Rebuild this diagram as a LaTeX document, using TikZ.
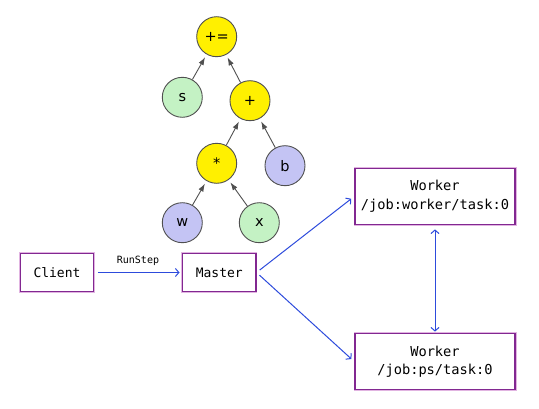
\documentclass[tikz,border=0pt]{standalone}
\usepackage{fontspec}
\setmainfont{DejaVu Sans}
\newfontfamily\monofont{DejaVu Sans Mono}
\usetikzlibrary{arrows.meta}
\definecolor{opyellow}{RGB}{255,240,0}
\definecolor{opgreen}{RGB}{196,242,196}
\definecolor{opblue}{RGB}{196,196,244}
\definecolor{opedge}{RGB}{80,80,80}
\definecolor{boxpurple}{RGB}{130,40,145}
\definecolor{boxglow}{RGB}{225,180,225}
\definecolor{linkblue}{RGB}{45,75,220}
\tikzset{
  opnode/.style={circle,draw=opedge,line width=0.9pt,minimum size=40pt,inner sep=0pt,
    font=\fontsize{14.5}{14.5}\selectfont},
  yel/.style={opnode,fill=opyellow},
  grn/.style={opnode,fill=opgreen},
  blu/.style={opnode,fill=opblue},
  treeedge/.style={draw=opedge,line width=0.9pt,-{Latex[length=8pt,width=5.5pt]},shorten >=3pt},
  procbox/.style={draw=boxpurple,line width=1.2pt,fill=white,inner sep=0pt,
    font=\monofont\fontsize{13}{18}\selectfont,align=center,
    preaction={draw=boxglow,line width=3pt}},
  link/.style={draw=linkblue,line width=1pt,-{Straight Barb[length=3.5pt,width=8pt]}},
  dlink/.style={draw=linkblue,line width=1pt,{Straight Barb[length=3.5pt,width=8pt]}-{Straight Barb[length=3.5pt,width=8pt]}},
}
\begin{document}
\begin{tikzpicture}[x=1pt,y=-1pt]
\useasboundingbox (0,0) rectangle (539,409);
% tree
\node[yel] (pe) at (216.7,36.7) {+=};
\node[grn] (s) at (182.3,97.3) {s};
\node[yel] (plus) at (250,100.7) {+};
\node[yel] (mul) at (216.7,163.3) {*};
\node[blu] (b) at (285,165.7) {b};
\node[blu] (w) at (182.3,222.7) {w};
\node[grn] (x) at (259.3,222.7) {x};
\draw[treeedge] (s) -- (pe);
\draw[treeedge] (plus) -- (pe);
\draw[treeedge] (mul) -- (plus);
\draw[treeedge] (b) -- (plus);
\draw[treeedge] (w) -- (mul);
\draw[treeedge] (x) -- (mul);
% processes
\node[procbox,minimum width=72.6pt,minimum height=38pt] (client) at (57,272.5) {Client};
\node[procbox,minimum width=73.3pt,minimum height=38pt] (master) at (219.3,272.5) {Master};
\node[procbox,minimum width=160pt,minimum height=56pt,font=\monofont\fontsize{13.7}{18.4}\selectfont] (w1) at (435,196.3) {Worker\\/job:worker/task:0};
\node[procbox,minimum width=160pt,minimum height=56pt,font=\monofont\fontsize{13.7}{18.4}\selectfont] (w2) at (435,361.7) {Worker\\/job:ps/task:0};
\draw[link,shorten <=4pt,shorten >=2.5pt] (client) -- node[above=3pt,font=\monofont\fontsize{10}{10}\selectfont]{RunStep} (master);
\draw[link,shorten <=4pt,shorten >=4pt] (master.east) -- (w1.west);
\draw[link,shorten <=4pt,shorten >=4pt] (master.east) -- (w2.west);
\draw[dlink,shorten <=4.5pt,shorten >=1.5pt] (w1) -- (w2);
\end{tikzpicture}
\end{document}
